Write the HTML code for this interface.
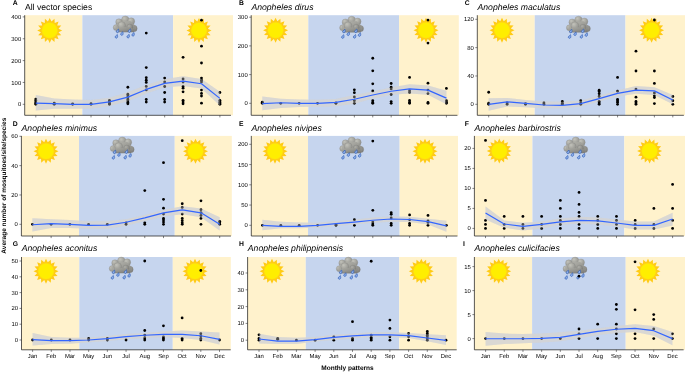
<!DOCTYPE html>
<html><head><meta charset="utf-8"><title>Monthly patterns</title>
<style>html,body{margin:0;padding:0;background:#fff}svg{display:block}text{font-family:"Liberation Sans",sans-serif;fill:#000;text-rendering:geometricPrecision}</style></head><body>
<svg width="685" height="372" viewBox="0 0 685 372">
<defs><linearGradient id="cg" x1="0" y1="0" x2="1" y2="1"><stop offset="0" stop-color="#b9b9b2"/><stop offset="1" stop-color="#84847f"/></linearGradient>
<linearGradient id="cg2" x1="0" y1="0" x2="1" y2="1"><stop offset="0" stop-color="#adada6"/><stop offset="1" stop-color="#7a7a76"/></linearGradient>
<radialGradient id="cr" cx="0.35" cy="0.3" r="0.8"><stop offset="0" stop-color="#c2c2ba"/><stop offset="1" stop-color="#8b8b87"/></radialGradient>
<radialGradient id="cr2" cx="0.35" cy="0.3" r="0.8"><stop offset="0" stop-color="#aeaea8"/><stop offset="1" stop-color="#777774"/></radialGradient>
<g id="sun">
<polygon fill="#FFCB14" points="0.00,-12.50 1.76,-8.83 4.78,-11.55 5.00,-7.48 8.84,-8.84 7.48,-5.00 11.55,-4.78 8.83,-1.76 12.50,0.00 8.83,1.76 11.55,4.78 7.48,5.00 8.84,8.84 5.00,7.48 4.78,11.55 1.76,8.83 0.00,12.50 -1.76,8.83 -4.78,11.55 -5.00,7.48 -8.84,8.84 -7.48,5.00 -11.55,4.78 -8.83,1.76 -12.50,0.00 -8.83,-1.76 -11.55,-4.78 -7.48,-5.00 -8.84,-8.84 -5.00,-7.48 -4.78,-11.55 -1.76,-8.83"/>
<circle r="8.4" fill="#FFD21A"/>
<circle r="7.7" fill="#FFEE00"/>
</g>
<path id="drop" d="M1 -2.3C1.3 -1 1.6 0.2 0.9 0.9A1.15 1.15 0 1 1 -0.9 -0.6C-0.3 -1.2 0.5 -1.6 1 -2.3Z" fill="#8fb0ea" stroke="#2b5bb5" stroke-width="0.65"/>
<g id="cloud">
<g stroke="#8c8c88" stroke-width="0.3">
<circle cx="12.1" cy="3.8" r="3.8" fill="url(#cr)"/>
<circle cx="5.8" cy="6.0" r="3.3" fill="url(#cr)"/>
<circle cx="18.0" cy="5.3" r="3.5" fill="url(#cr)"/>
<circle cx="3.0" cy="11.6" r="3.0" fill="url(#cr)"/>
<circle cx="20.8" cy="12.4" r="3.2" fill="url(#cr2)"/>
</g>
<path fill="url(#cg)" d="M3 16.1 L20.8 16.1 L22.4 10 L17 5 L7 5.5 L2 10 Z"/>
<g stroke="#7f7f7b" stroke-width="0.3">
<circle cx="8.5" cy="9.6" r="3.9" fill="url(#cr)"/>
<circle cx="16.6" cy="11.2" r="3.1" fill="url(#cr2)"/>
</g>
<path fill="url(#cg2)" d="M2.4 12.6 L8 11 L17 11.5 L21.6 13.5 L21 15.9 L3.4 15.9 Z"/>
<path d="M3 16.1 H20.8" stroke="#777" stroke-width="0.4"/>
<use href="#drop" x="4.3" y="15.3"/><use href="#drop" x="8.6" y="18.0"/><use href="#drop" x="3.1" y="20.8"/><use href="#drop" x="16.2" y="15.1"/><use href="#drop" x="19.8" y="18.8"/><use href="#drop" x="14.9" y="20.6"/>
</g>
</defs>
<rect width="685" height="372" fill="#fff"/>
<g>
<rect x="24.7" y="15.2" width="57.68" height="100.1" fill="#FFF2CC"/>
<rect x="82.38" y="15.2" width="90.76" height="100.1" fill="#C6D5EE"/>
<rect x="173.14" y="15.2" width="59.86" height="100.1" fill="#FFF2CC"/>
<use href="#sun" x="49.7" y="30.4"/>
<use href="#sun" x="199" y="30.4"/>
<use href="#cloud" x="113.2" y="16"/>
<polygon fill="#D4D4D4" fill-opacity="0.8" points="35.8,95.12 54.21,98.4 72.62,99.49 91.03,99.93 109.44,97.75 127.85,92.28 146.26,85.07 164.67,79.17 183.08,76.33 201.49,78.95 219.9,91.63 219.9,105.39 201.49,88.57 183.08,85.95 164.67,87.26 146.26,93.38 127.85,101.24 109.44,106.05 91.03,108.45 72.62,108.67 54.21,108.67 35.8,110.42"/>
<g fill="#000"><circle cx="35.8" cy="104.3" r="1.4"/><circle cx="35.8" cy="103.21" r="1.4"/><circle cx="35.8" cy="102.11" r="1.4"/><circle cx="35.8" cy="100.59" r="1.4"/><circle cx="35.8" cy="99.06" r="1.4"/><circle cx="54.21" cy="104.3" r="1.4"/><circle cx="54.21" cy="103.64" r="1.4"/><circle cx="54.21" cy="103.21" r="1.4"/><circle cx="72.62" cy="104.3" r="1.4"/><circle cx="72.62" cy="103.86" r="1.4"/><circle cx="91.03" cy="104.3" r="1.4"/><circle cx="91.03" cy="103.64" r="1.4"/><circle cx="109.44" cy="104.3" r="1.4"/><circle cx="109.44" cy="103.21" r="1.4"/><circle cx="109.44" cy="101.68" r="1.4"/><circle cx="109.44" cy="100.37" r="1.4"/><circle cx="127.85" cy="87.26" r="1.4"/><circle cx="127.85" cy="94.25" r="1.4"/><circle cx="127.85" cy="96" r="1.4"/><circle cx="127.85" cy="97.75" r="1.4"/><circle cx="127.85" cy="99.49" r="1.4"/><circle cx="127.85" cy="101.02" r="1.4"/><circle cx="127.85" cy="102.55" r="1.4"/><circle cx="127.85" cy="103.86" r="1.4"/><circle cx="146.26" cy="33.07" r="1.4"/><circle cx="146.26" cy="67.59" r="1.4"/><circle cx="146.26" cy="77.64" r="1.4"/><circle cx="146.26" cy="80.27" r="1.4"/><circle cx="146.26" cy="82.45" r="1.4"/><circle cx="146.26" cy="86.38" r="1.4"/><circle cx="146.26" cy="89.88" r="1.4"/><circle cx="146.26" cy="99.49" r="1.4"/><circle cx="146.26" cy="102.11" r="1.4"/><circle cx="164.67" cy="78.08" r="1.4"/><circle cx="164.67" cy="82.01" r="1.4"/><circle cx="164.67" cy="86.38" r="1.4"/><circle cx="164.67" cy="92.5" r="1.4"/><circle cx="164.67" cy="99.49" r="1.4"/><circle cx="164.67" cy="102.11" r="1.4"/><circle cx="183.08" cy="57.32" r="1.4"/><circle cx="183.08" cy="78.95" r="1.4"/><circle cx="183.08" cy="82.01" r="1.4"/><circle cx="183.08" cy="86.38" r="1.4"/><circle cx="183.08" cy="88.13" r="1.4"/><circle cx="183.08" cy="91.85" r="1.4"/><circle cx="183.08" cy="100.37" r="1.4"/><circle cx="183.08" cy="102.11" r="1.4"/><circle cx="183.08" cy="103.86" r="1.4"/><circle cx="201.49" cy="20.18" r="1.4"/><circle cx="201.49" cy="46.18" r="1.4"/><circle cx="201.49" cy="63" r="1.4"/><circle cx="201.49" cy="78.08" r="1.4"/><circle cx="201.49" cy="80.27" r="1.4"/><circle cx="201.49" cy="82.01" r="1.4"/><circle cx="201.49" cy="90.1" r="1.4"/><circle cx="201.49" cy="93.38" r="1.4"/><circle cx="201.49" cy="96" r="1.4"/><circle cx="201.49" cy="103.21" r="1.4"/><circle cx="219.9" cy="92.5" r="1.4"/><circle cx="219.9" cy="100.37" r="1.4"/><circle cx="219.9" cy="101.68" r="1.4"/><circle cx="219.9" cy="102.55" r="1.4"/><circle cx="219.9" cy="103.43" r="1.4"/><circle cx="219.9" cy="104.3" r="1.4"/></g>
<polygon fill="#D4D4D4" fill-opacity="0.35" points="35.8,95.12 54.21,98.4 72.62,99.49 91.03,99.93 109.44,97.75 127.85,92.28 146.26,85.07 164.67,79.17 183.08,76.33 201.49,78.95 219.9,91.63 219.9,105.39 201.49,88.57 183.08,85.95 164.67,87.26 146.26,93.38 127.85,101.24 109.44,106.05 91.03,108.45 72.62,108.67 54.21,108.67 35.8,110.42"/>
<polyline fill="none" stroke="#3366FF" stroke-width="1.2" stroke-linejoin="round" points="35.8,103.21 54.21,103.64 72.62,104.3 91.03,104.3 109.44,101.9 127.85,97.09 146.26,89.44 164.67,83.32 183.08,81.14 201.49,83.76 219.9,98.4"/>
<path d="M24.7 15.2V115.3H230.95" fill="none" stroke="#222" stroke-width="0.75"/>
<path d="M22.7 104.3H24.7M22.7 82.45H24.7M22.7 60.6H24.7M22.7 38.75H24.7M22.7 16.9H24.7M35.8 115.3V117.4M54.21 115.3V117.4M72.62 115.3V117.4M91.03 115.3V117.4M109.44 115.3V117.4M127.85 115.3V117.4M146.26 115.3V117.4M164.67 115.3V117.4M183.08 115.3V117.4M201.49 115.3V117.4M219.9 115.3V117.4" stroke="#333" stroke-width="0.6" fill="none"/>
<text x="21.2" y="106.35" font-size="5.9" text-anchor="end" fill="#0d0d0d">0</text>
<text x="21.2" y="84.5" font-size="5.9" text-anchor="end" fill="#0d0d0d">100</text>
<text x="21.2" y="62.65" font-size="5.9" text-anchor="end" fill="#0d0d0d">200</text>
<text x="21.2" y="40.8" font-size="5.9" text-anchor="end" fill="#0d0d0d">300</text>
<text x="21.2" y="18.95" font-size="5.9" text-anchor="end" fill="#0d0d0d">400</text>
<text x="12.8" y="4.8" font-size="6.8" font-weight="bold">A</text>
<text x="24.9" y="10" font-size="8.67">All vector species</text>
</g>
<g>
<rect x="251.2" y="15.2" width="57.12" height="100.1" fill="#FFF2CC"/>
<rect x="308.32" y="15.2" width="90.76" height="100.1" fill="#C6D5EE"/>
<rect x="399.09" y="15.2" width="59.71" height="100.1" fill="#FFF2CC"/>
<use href="#sun" x="275.6" y="30.2"/>
<use href="#sun" x="426" y="30.2"/>
<use href="#cloud" x="339.6" y="16.2"/>
<polygon fill="#D4D4D4" fill-opacity="0.8" points="262.3,96.41 280.71,98.71 299.12,99.57 317.53,99.86 335.94,99 354.35,94.98 372.76,91.53 391.17,87.52 409.58,84.36 427.99,85.51 446.4,90.67 446.4,104.16 427.99,94.69 409.58,93.54 391.17,94.69 372.76,98.42 354.35,103.87 335.94,106.17 317.53,106.74 299.12,107.03 280.71,107.89 262.3,110.19"/>
<g fill="#000"><circle cx="262.3" cy="103.3" r="1.4"/><circle cx="262.3" cy="102.73" r="1.4"/><circle cx="262.3" cy="102.15" r="1.4"/><circle cx="280.71" cy="103.3" r="1.4"/><circle cx="299.12" cy="103.3" r="1.4"/><circle cx="317.53" cy="103.3" r="1.4"/><circle cx="335.94" cy="103.3" r="1.4"/><circle cx="335.94" cy="103.01" r="1.4"/><circle cx="354.35" cy="89.81" r="1.4"/><circle cx="354.35" cy="92.68" r="1.4"/><circle cx="354.35" cy="96.99" r="1.4"/><circle cx="354.35" cy="100.72" r="1.4"/><circle cx="354.35" cy="103.3" r="1.4"/><circle cx="372.76" cy="58.24" r="1.4"/><circle cx="372.76" cy="70.87" r="1.4"/><circle cx="372.76" cy="83.78" r="1.4"/><circle cx="372.76" cy="90.96" r="1.4"/><circle cx="372.76" cy="100.72" r="1.4"/><circle cx="372.76" cy="102.44" r="1.4"/><circle cx="372.76" cy="103.3" r="1.4"/><circle cx="391.17" cy="83.5" r="1.4"/><circle cx="391.17" cy="87.23" r="1.4"/><circle cx="391.17" cy="88.95" r="1.4"/><circle cx="391.17" cy="94.4" r="1.4"/><circle cx="391.17" cy="101.58" r="1.4"/><circle cx="391.17" cy="103.3" r="1.4"/><circle cx="409.58" cy="77.47" r="1.4"/><circle cx="409.58" cy="90.67" r="1.4"/><circle cx="409.58" cy="92.39" r="1.4"/><circle cx="409.58" cy="100.43" r="1.4"/><circle cx="409.58" cy="102.15" r="1.4"/><circle cx="409.58" cy="103.3" r="1.4"/><circle cx="427.99" cy="20.07" r="1.4"/><circle cx="427.99" cy="43.03" r="1.4"/><circle cx="427.99" cy="83.21" r="1.4"/><circle cx="427.99" cy="90.1" r="1.4"/><circle cx="427.99" cy="93.54" r="1.4"/><circle cx="427.99" cy="102.44" r="1.4"/><circle cx="427.99" cy="103.3" r="1.4"/><circle cx="446.4" cy="88.38" r="1.4"/><circle cx="446.4" cy="100.72" r="1.4"/><circle cx="446.4" cy="102.15" r="1.4"/><circle cx="446.4" cy="103.3" r="1.4"/></g>
<polygon fill="#D4D4D4" fill-opacity="0.35" points="262.3,96.41 280.71,98.71 299.12,99.57 317.53,99.86 335.94,99 354.35,94.98 372.76,91.53 391.17,87.52 409.58,84.36 427.99,85.51 446.4,90.67 446.4,104.16 427.99,94.69 409.58,93.54 391.17,94.69 372.76,98.42 354.35,103.87 335.94,106.17 317.53,106.74 299.12,107.03 280.71,107.89 262.3,110.19"/>
<polyline fill="none" stroke="#3366FF" stroke-width="1.2" stroke-linejoin="round" points="262.3,103.59 280.71,102.73 299.12,103.3 317.53,103.3 335.94,102.44 354.35,99.28 372.76,94.98 391.17,91.25 409.58,88.95 427.99,90.1 446.4,98.13"/>
<path d="M251.2 15.2V115.3H457.45" fill="none" stroke="#222" stroke-width="0.75"/>
<path d="M249.2 103.3H251.2M249.2 74.6H251.2M249.2 45.9H251.2M249.2 17.2H251.2M262.3 115.3V117.4M280.71 115.3V117.4M299.12 115.3V117.4M317.53 115.3V117.4M335.94 115.3V117.4M354.35 115.3V117.4M372.76 115.3V117.4M391.17 115.3V117.4M409.58 115.3V117.4M427.99 115.3V117.4M446.4 115.3V117.4" stroke="#333" stroke-width="0.6" fill="none"/>
<text x="247.7" y="105.35" font-size="5.9" text-anchor="end" fill="#0d0d0d">0</text>
<text x="247.7" y="76.65" font-size="5.9" text-anchor="end" fill="#0d0d0d">100</text>
<text x="247.7" y="47.95" font-size="5.9" text-anchor="end" fill="#0d0d0d">200</text>
<text x="247.7" y="19.25" font-size="5.9" text-anchor="end" fill="#0d0d0d">300</text>
<text x="239.1" y="4.8" font-size="6.8" font-weight="bold">B</text>
<text x="251.4" y="10" font-size="8.67" font-style="italic">Anopheles dirus</text>
</g>
<g>
<rect x="477.3" y="15.2" width="57.43" height="100.1" fill="#FFF2CC"/>
<rect x="534.73" y="15.2" width="90.76" height="100.1" fill="#C6D5EE"/>
<rect x="625.49" y="15.2" width="59.71" height="100.1" fill="#FFF2CC"/>
<use href="#sun" x="502" y="30.2"/>
<use href="#sun" x="651.6" y="30.2"/>
<use href="#cloud" x="566.4" y="16.2"/>
<polygon fill="#D4D4D4" fill-opacity="0.8" points="488.7,98.21 507.11,97.93 525.52,100.05 543.93,101.47 562.34,101.82 580.75,100.76 599.16,95.45 617.57,90.49 635.98,85.88 654.39,87.3 672.8,95.09 672.8,104.3 654.39,95.09 635.98,93.68 617.57,96.51 599.16,101.47 580.75,106.42 562.34,108.2 543.93,108.2 525.52,107.13 507.11,106.42 488.7,110.67"/>
<g fill="#000"><circle cx="488.7" cy="92.26" r="1.4"/><circle cx="488.7" cy="103.24" r="1.4"/><circle cx="488.7" cy="104.3" r="1.4"/><circle cx="507.11" cy="104.3" r="1.4"/><circle cx="507.11" cy="102.88" r="1.4"/><circle cx="525.52" cy="104.3" r="1.4"/><circle cx="525.52" cy="103.59" r="1.4"/><circle cx="543.93" cy="102.88" r="1.4"/><circle cx="543.93" cy="104.3" r="1.4"/><circle cx="562.34" cy="101.47" r="1.4"/><circle cx="562.34" cy="103.24" r="1.4"/><circle cx="562.34" cy="104.3" r="1.4"/><circle cx="580.75" cy="100.76" r="1.4"/><circle cx="580.75" cy="102.88" r="1.4"/><circle cx="580.75" cy="104.3" r="1.4"/><circle cx="599.16" cy="90.13" r="1.4"/><circle cx="599.16" cy="91.55" r="1.4"/><circle cx="599.16" cy="93.68" r="1.4"/><circle cx="599.16" cy="96.51" r="1.4"/><circle cx="599.16" cy="101.47" r="1.4"/><circle cx="599.16" cy="102.88" r="1.4"/><circle cx="599.16" cy="104.3" r="1.4"/><circle cx="617.57" cy="77.38" r="1.4"/><circle cx="617.57" cy="91.2" r="1.4"/><circle cx="617.57" cy="99.34" r="1.4"/><circle cx="617.57" cy="100.76" r="1.4"/><circle cx="617.57" cy="102.18" r="1.4"/><circle cx="617.57" cy="104.3" r="1.4"/><circle cx="635.98" cy="51.18" r="1.4"/><circle cx="635.98" cy="71.01" r="1.4"/><circle cx="635.98" cy="89.07" r="1.4"/><circle cx="635.98" cy="97.22" r="1.4"/><circle cx="635.98" cy="101.47" r="1.4"/><circle cx="635.98" cy="102.88" r="1.4"/><circle cx="635.98" cy="104.3" r="1.4"/><circle cx="654.39" cy="20.01" r="1.4"/><circle cx="654.39" cy="71.01" r="1.4"/><circle cx="654.39" cy="83.41" r="1.4"/><circle cx="654.39" cy="92.97" r="1.4"/><circle cx="654.39" cy="95.8" r="1.4"/><circle cx="654.39" cy="97.57" r="1.4"/><circle cx="654.39" cy="103.59" r="1.4"/><circle cx="672.8" cy="96.51" r="1.4"/><circle cx="672.8" cy="100.76" r="1.4"/><circle cx="672.8" cy="104.3" r="1.4"/></g>
<polygon fill="#D4D4D4" fill-opacity="0.35" points="488.7,98.21 507.11,97.93 525.52,100.05 543.93,101.47 562.34,101.82 580.75,100.76 599.16,95.45 617.57,90.49 635.98,85.88 654.39,87.3 672.8,95.09 672.8,104.3 654.39,95.09 635.98,93.68 617.57,96.51 599.16,101.47 580.75,106.42 562.34,108.2 543.93,108.2 525.52,107.13 507.11,106.42 488.7,110.67"/>
<polyline fill="none" stroke="#3366FF" stroke-width="1.2" stroke-linejoin="round" points="488.7,104.3 507.11,101.82 525.52,103.38 543.93,105.01 562.34,105.36 580.75,103.59 599.16,98.63 617.57,93.32 635.98,90.13 654.39,90.84 672.8,100.05"/>
<path d="M477.3 15.2V115.3H683.85" fill="none" stroke="#222" stroke-width="0.75"/>
<path d="M475.3 104.3H477.3M475.3 75.97H477.3M475.3 47.64H477.3M475.3 19.3H477.3M488.7 115.3V117.4M507.11 115.3V117.4M525.52 115.3V117.4M543.93 115.3V117.4M562.34 115.3V117.4M580.75 115.3V117.4M599.16 115.3V117.4M617.57 115.3V117.4M635.98 115.3V117.4M654.39 115.3V117.4M672.8 115.3V117.4" stroke="#333" stroke-width="0.6" fill="none"/>
<text x="473.8" y="106.35" font-size="5.9" text-anchor="end" fill="#0d0d0d">0</text>
<text x="473.8" y="78.02" font-size="5.9" text-anchor="end" fill="#0d0d0d">40</text>
<text x="473.8" y="49.69" font-size="5.9" text-anchor="end" fill="#0d0d0d">80</text>
<text x="473.8" y="21.35" font-size="5.9" text-anchor="end" fill="#0d0d0d">120</text>
<text x="464.8" y="4.8" font-size="6.8" font-weight="bold">C</text>
<text x="477.5" y="10" font-size="8.67" font-style="italic">Anopheles maculatus</text>
</g>
<g>
<rect x="21.4" y="135.9" width="57.64" height="100.1" fill="#FFF2CC"/>
<rect x="79.04" y="135.9" width="95.71" height="100.1" fill="#C6D5EE"/>
<rect x="174.75" y="135.9" width="57.05" height="100.1" fill="#FFF2CC"/>
<use href="#sun" x="46" y="151.2"/>
<use href="#sun" x="195.5" y="151.2"/>
<use href="#cloud" x="110.2" y="137"/>
<polygon fill="#D4D4D4" fill-opacity="0.8" points="32.4,218.29 51.13,219.31 69.86,219.9 88.59,221.37 107.32,221.37 126.05,219.17 144.78,214.91 163.51,209.93 182.24,206.26 200.97,208.46 219.7,217.26 219.7,230.61 200.97,217.26 182.24,214.33 163.51,216.38 144.78,221.07 126.05,225.77 107.32,228.7 88.59,228.7 69.86,227.97 51.13,227.97 32.4,231.49"/>
<g fill="#000"><circle cx="32.4" cy="224.3" r="1.4"/><circle cx="51.13" cy="224.3" r="1.4"/><circle cx="69.86" cy="224.3" r="1.4"/><circle cx="88.59" cy="224.3" r="1.4"/><circle cx="107.32" cy="224.3" r="1.4"/><circle cx="126.05" cy="224.3" r="1.4"/><circle cx="126.05" cy="222.83" r="1.4"/><circle cx="144.78" cy="190.57" r="1.4"/><circle cx="144.78" cy="222.83" r="1.4"/><circle cx="144.78" cy="224.3" r="1.4"/><circle cx="163.51" cy="162.7" r="1.4"/><circle cx="163.51" cy="199.37" r="1.4"/><circle cx="163.51" cy="208.17" r="1.4"/><circle cx="163.51" cy="214.03" r="1.4"/><circle cx="163.51" cy="218.43" r="1.4"/><circle cx="163.51" cy="219.9" r="1.4"/><circle cx="163.51" cy="222.1" r="1.4"/><circle cx="163.51" cy="224.3" r="1.4"/><circle cx="182.24" cy="140.7" r="1.4"/><circle cx="182.24" cy="203.77" r="1.4"/><circle cx="182.24" cy="207.43" r="1.4"/><circle cx="182.24" cy="214.03" r="1.4"/><circle cx="182.24" cy="218.43" r="1.4"/><circle cx="182.24" cy="220.63" r="1.4"/><circle cx="182.24" cy="222.83" r="1.4"/><circle cx="182.24" cy="224.3" r="1.4"/><circle cx="200.97" cy="200.83" r="1.4"/><circle cx="200.97" cy="209.63" r="1.4"/><circle cx="200.97" cy="212.57" r="1.4"/><circle cx="200.97" cy="215.5" r="1.4"/><circle cx="200.97" cy="218.43" r="1.4"/><circle cx="200.97" cy="224.3" r="1.4"/><circle cx="219.7" cy="221.37" r="1.4"/><circle cx="219.7" cy="222.83" r="1.4"/><circle cx="219.7" cy="224.3" r="1.4"/></g>
<polygon fill="#D4D4D4" fill-opacity="0.35" points="32.4,218.29 51.13,219.31 69.86,219.9 88.59,221.37 107.32,221.37 126.05,219.17 144.78,214.91 163.51,209.93 182.24,206.26 200.97,208.46 219.7,217.26 219.7,230.61 200.97,217.26 182.24,214.33 163.51,216.38 144.78,221.07 126.05,225.77 107.32,228.7 88.59,228.7 69.86,227.97 51.13,227.97 32.4,231.49"/>
<polyline fill="none" stroke="#3366FF" stroke-width="1.2" stroke-linejoin="round" points="32.4,224.74 51.13,223.57 69.86,224.3 88.59,225.33 107.32,225.18 126.05,222.25 144.78,217.85 163.51,212.86 182.24,209.93 200.97,212.86 219.7,224.3"/>
<path d="M21.4 135.9V236H230.94" fill="none" stroke="#222" stroke-width="0.75"/>
<path d="M19.4 224.3H21.4M19.4 194.97H21.4M19.4 165.63H21.4M19.4 136.3H21.4M32.4 236V238.1M51.13 236V238.1M69.86 236V238.1M88.59 236V238.1M107.32 236V238.1M126.05 236V238.1M144.78 236V238.1M163.51 236V238.1M182.24 236V238.1M200.97 236V238.1M219.7 236V238.1" stroke="#333" stroke-width="0.6" fill="none"/>
<text x="17.9" y="226.35" font-size="5.9" text-anchor="end" fill="#0d0d0d">0</text>
<text x="17.9" y="197.02" font-size="5.9" text-anchor="end" fill="#0d0d0d">20</text>
<text x="17.9" y="167.68" font-size="5.9" text-anchor="end" fill="#0d0d0d">40</text>
<text x="17.9" y="138.35" font-size="5.9" text-anchor="end" fill="#0d0d0d">60</text>
<text x="12.8" y="125.7" font-size="6.8" font-weight="bold">D</text>
<text x="21.6" y="130.5" font-size="8.67" font-style="italic">Anopheles minimus</text>
</g>
<g>
<rect x="251.3" y="135.9" width="56.73" height="100.1" fill="#FFF2CC"/>
<rect x="308.03" y="135.9" width="91.63" height="100.1" fill="#C6D5EE"/>
<rect x="399.66" y="135.9" width="58.34" height="100.1" fill="#FFF2CC"/>
<use href="#sun" x="275" y="151.2"/>
<use href="#sun" x="425" y="151.2"/>
<use href="#cloud" x="339.7" y="137"/>
<polygon fill="#D4D4D4" fill-opacity="0.8" points="262.4,219.63 280.8,221.86 299.2,222.47 317.6,222.67 336,221.25 354.4,219.63 372.8,217.61 391.2,216.39 409.6,216.8 428,218.82 446.4,220.84 446.4,231.78 428,224.49 409.6,222.06 391.2,221.66 372.8,222.87 354.4,224.49 336,226.11 317.6,227.53 299.2,228.14 280.8,228.34 262.4,230.16"/>
<g fill="#000"><circle cx="262.4" cy="225.3" r="1.4"/><circle cx="280.8" cy="225.3" r="1.4"/><circle cx="299.2" cy="225.3" r="1.4"/><circle cx="317.6" cy="225.3" r="1.4"/><circle cx="336" cy="225.3" r="1.4"/><circle cx="336" cy="224.49" r="1.4"/><circle cx="354.4" cy="219.63" r="1.4"/><circle cx="354.4" cy="225.3" r="1.4"/><circle cx="372.8" cy="141.06" r="1.4"/><circle cx="372.8" cy="210.31" r="1.4"/><circle cx="372.8" cy="222.06" r="1.4"/><circle cx="372.8" cy="224.09" r="1.4"/><circle cx="372.8" cy="225.3" r="1.4"/><circle cx="391.2" cy="212.75" r="1.4"/><circle cx="391.2" cy="214.37" r="1.4"/><circle cx="391.2" cy="218.01" r="1.4"/><circle cx="391.2" cy="223.48" r="1.4"/><circle cx="391.2" cy="225.3" r="1.4"/><circle cx="409.6" cy="214.97" r="1.4"/><circle cx="409.6" cy="219.83" r="1.4"/><circle cx="409.6" cy="223.48" r="1.4"/><circle cx="409.6" cy="225.3" r="1.4"/><circle cx="428" cy="215.38" r="1.4"/><circle cx="428" cy="220.84" r="1.4"/><circle cx="428" cy="222.47" r="1.4"/><circle cx="428" cy="225.3" r="1.4"/><circle cx="446.4" cy="225.3" r="1.4"/></g>
<polygon fill="#D4D4D4" fill-opacity="0.35" points="262.4,219.63 280.8,221.86 299.2,222.47 317.6,222.67 336,221.25 354.4,219.63 372.8,217.61 391.2,216.39 409.6,216.8 428,218.82 446.4,220.84 446.4,231.78 428,224.49 409.6,222.06 391.2,221.66 372.8,222.87 354.4,224.49 336,226.11 317.6,227.53 299.2,228.14 280.8,228.34 262.4,230.16"/>
<polyline fill="none" stroke="#3366FF" stroke-width="1.2" stroke-linejoin="round" points="262.4,225.3 280.8,226.31 299.2,226.31 317.6,225.3 336,223.68 354.4,222.06 372.8,220.24 391.2,218.98 409.6,219.51 428,221.66 446.4,225.83"/>
<path d="M251.3 135.9V236H457.44" fill="none" stroke="#222" stroke-width="0.75"/>
<path d="M249.3 225.3H251.3M249.3 205.05H251.3M249.3 184.8H251.3M249.3 164.55H251.3M249.3 144.3H251.3M262.4 236V238.1M280.8 236V238.1M299.2 236V238.1M317.6 236V238.1M336 236V238.1M354.4 236V238.1M372.8 236V238.1M391.2 236V238.1M409.6 236V238.1M428 236V238.1M446.4 236V238.1" stroke="#333" stroke-width="0.6" fill="none"/>
<text x="247.8" y="227.35" font-size="5.9" text-anchor="end" fill="#0d0d0d">0</text>
<text x="247.8" y="207.1" font-size="5.9" text-anchor="end" fill="#0d0d0d">50</text>
<text x="247.8" y="186.85" font-size="5.9" text-anchor="end" fill="#0d0d0d">100</text>
<text x="247.8" y="166.6" font-size="5.9" text-anchor="end" fill="#0d0d0d">150</text>
<text x="247.8" y="146.35" font-size="5.9" text-anchor="end" fill="#0d0d0d">200</text>
<text x="239.1" y="125.7" font-size="6.8" font-weight="bold">E</text>
<text x="251.5" y="130.5" font-size="8.67" font-style="italic">Anopheles nivipes</text>
</g>
<g>
<rect x="474.4" y="135.9" width="58.06" height="100.1" fill="#FFF2CC"/>
<rect x="532.46" y="135.9" width="91.87" height="100.1" fill="#C6D5EE"/>
<rect x="624.33" y="135.9" width="60.87" height="100.1" fill="#FFF2CC"/>
<use href="#sun" x="499.3" y="151"/>
<use href="#sun" x="649.6" y="151"/>
<use href="#cloud" x="563.7" y="137"/>
<polygon fill="#D4D4D4" fill-opacity="0.8" points="485.5,206.4 504.21,220.4 522.92,222.8 541.63,221.4 560.34,218.4 579.05,216.8 597.76,217.4 616.47,219.4 635.18,221.4 653.89,221.4 672.6,212.8 672.6,225.4 653.89,229.4 635.18,229.4 616.47,226.4 597.76,224.4 579.05,223.4 560.34,224.8 541.63,228.4 522.92,230.4 504.21,227.8 485.5,219.4"/>
<g fill="#000"><circle cx="485.5" cy="140.4" r="1.4"/><circle cx="485.5" cy="200.4" r="1.4"/><circle cx="485.5" cy="220.4" r="1.4"/><circle cx="485.5" cy="224.4" r="1.4"/><circle cx="485.5" cy="228.4" r="1.4"/><circle cx="504.21" cy="216.4" r="1.4"/><circle cx="504.21" cy="224.4" r="1.4"/><circle cx="504.21" cy="228.4" r="1.4"/><circle cx="522.92" cy="216.4" r="1.4"/><circle cx="522.92" cy="224.4" r="1.4"/><circle cx="522.92" cy="228.4" r="1.4"/><circle cx="541.63" cy="216.4" r="1.4"/><circle cx="541.63" cy="224.4" r="1.4"/><circle cx="541.63" cy="228.4" r="1.4"/><circle cx="560.34" cy="200.4" r="1.4"/><circle cx="560.34" cy="208.4" r="1.4"/><circle cx="560.34" cy="216.4" r="1.4"/><circle cx="560.34" cy="220.4" r="1.4"/><circle cx="560.34" cy="224.4" r="1.4"/><circle cx="560.34" cy="228.4" r="1.4"/><circle cx="579.05" cy="192.4" r="1.4"/><circle cx="579.05" cy="204.4" r="1.4"/><circle cx="579.05" cy="212.4" r="1.4"/><circle cx="579.05" cy="216.4" r="1.4"/><circle cx="579.05" cy="224.4" r="1.4"/><circle cx="579.05" cy="228.4" r="1.4"/><circle cx="597.76" cy="216.4" r="1.4"/><circle cx="597.76" cy="220.4" r="1.4"/><circle cx="597.76" cy="224.4" r="1.4"/><circle cx="597.76" cy="228.4" r="1.4"/><circle cx="616.47" cy="216.4" r="1.4"/><circle cx="616.47" cy="220.4" r="1.4"/><circle cx="616.47" cy="224.4" r="1.4"/><circle cx="616.47" cy="228.4" r="1.4"/><circle cx="635.18" cy="220.4" r="1.4"/><circle cx="635.18" cy="224.4" r="1.4"/><circle cx="635.18" cy="228.4" r="1.4"/><circle cx="653.89" cy="208.4" r="1.4"/><circle cx="653.89" cy="224.4" r="1.4"/><circle cx="653.89" cy="228.4" r="1.4"/><circle cx="672.6" cy="184.4" r="1.4"/><circle cx="672.6" cy="208.4" r="1.4"/><circle cx="672.6" cy="220.4" r="1.4"/><circle cx="672.6" cy="228.4" r="1.4"/></g>
<polygon fill="#D4D4D4" fill-opacity="0.35" points="485.5,206.4 504.21,220.4 522.92,222.8 541.63,221.4 560.34,218.4 579.05,216.8 597.76,217.4 616.47,219.4 635.18,221.4 653.89,221.4 672.6,212.8 672.6,225.4 653.89,229.4 635.18,229.4 616.47,226.4 597.76,224.4 579.05,223.4 560.34,224.8 541.63,228.4 522.92,230.4 504.21,227.8 485.5,219.4"/>
<polyline fill="none" stroke="#3366FF" stroke-width="1.2" stroke-linejoin="round" points="485.5,213 504.21,224 522.92,226.4 541.63,224.4 560.34,221.8 579.05,220.4 597.76,220.8 616.47,223 635.18,225.4 653.89,225.4 672.6,219"/>
<path d="M474.4 135.9V236H683.83" fill="none" stroke="#222" stroke-width="0.75"/>
<path d="M472.4 228.4H474.4M472.4 208.4H474.4M472.4 188.4H474.4M472.4 168.4H474.4M472.4 148.4H474.4M485.5 236V238.1M504.21 236V238.1M522.92 236V238.1M541.63 236V238.1M560.34 236V238.1M579.05 236V238.1M597.76 236V238.1M616.47 236V238.1M635.18 236V238.1M653.89 236V238.1M672.6 236V238.1" stroke="#333" stroke-width="0.6" fill="none"/>
<text x="470.9" y="230.45" font-size="5.9" text-anchor="end" fill="#0d0d0d">0</text>
<text x="470.9" y="210.45" font-size="5.9" text-anchor="end" fill="#0d0d0d">5</text>
<text x="470.9" y="190.45" font-size="5.9" text-anchor="end" fill="#0d0d0d">10</text>
<text x="470.9" y="170.45" font-size="5.9" text-anchor="end" fill="#0d0d0d">15</text>
<text x="470.9" y="150.45" font-size="5.9" text-anchor="end" fill="#0d0d0d">20</text>
<text x="464.8" y="125.7" font-size="6.8" font-weight="bold">F</text>
<text x="474.6" y="130.5" font-size="8.67" font-style="italic">Anopheles barbirostris</text>
</g>
<g>
<rect x="21.5" y="257" width="57.83" height="92.8" fill="#FFF2CC"/>
<rect x="79.33" y="257" width="93.45" height="92.8" fill="#C6D5EE"/>
<rect x="172.78" y="257" width="58.03" height="92.8" fill="#FFF2CC"/>
<use href="#sun" x="46" y="271.2"/>
<use href="#sun" x="195" y="271.2"/>
<use href="#cloud" x="109.2" y="257"/>
<polygon fill="#D4D4D4" fill-opacity="0.8" points="32.6,333.05 51.29,337 69.98,337.63 88.67,337.63 107.36,336.05 126.05,334 144.74,332.89 163.43,331.47 182.12,330.52 200.81,331.47 219.5,332.42 219.5,344.58 200.81,340 182.12,337.95 163.43,337 144.74,337.95 126.05,339.37 107.36,340.95 88.67,342.37 69.98,343.63 51.29,343.95 32.6,345.53"/>
<g fill="#000"><circle cx="32.6" cy="340" r="1.4"/><circle cx="51.29" cy="340" r="1.4"/><circle cx="69.98" cy="340" r="1.4"/><circle cx="88.67" cy="338.42" r="1.4"/><circle cx="88.67" cy="340" r="1.4"/><circle cx="107.36" cy="338.42" r="1.4"/><circle cx="107.36" cy="340" r="1.4"/><circle cx="126.05" cy="340" r="1.4"/><circle cx="144.74" cy="261" r="1.4"/><circle cx="144.74" cy="330.52" r="1.4"/><circle cx="144.74" cy="335.26" r="1.4"/><circle cx="144.74" cy="337.95" r="1.4"/><circle cx="144.74" cy="340" r="1.4"/><circle cx="163.43" cy="325.78" r="1.4"/><circle cx="163.43" cy="336.84" r="1.4"/><circle cx="163.43" cy="338.42" r="1.4"/><circle cx="163.43" cy="340" r="1.4"/><circle cx="182.12" cy="317.88" r="1.4"/><circle cx="182.12" cy="338.42" r="1.4"/><circle cx="182.12" cy="340" r="1.4"/><circle cx="200.81" cy="270.48" r="1.4"/><circle cx="200.81" cy="333.68" r="1.4"/><circle cx="200.81" cy="336.05" r="1.4"/><circle cx="200.81" cy="338.42" r="1.4"/><circle cx="200.81" cy="340" r="1.4"/><circle cx="219.5" cy="340" r="1.4"/></g>
<polygon fill="#D4D4D4" fill-opacity="0.35" points="32.6,333.05 51.29,337 69.98,337.63 88.67,337.63 107.36,336.05 126.05,334 144.74,332.89 163.43,331.47 182.12,330.52 200.81,331.47 219.5,332.42 219.5,344.58 200.81,340 182.12,337.95 163.43,337 144.74,337.95 126.05,339.37 107.36,340.95 88.67,342.37 69.98,343.63 51.29,343.95 32.6,345.53"/>
<polyline fill="none" stroke="#3366FF" stroke-width="1.2" stroke-linejoin="round" points="32.6,339.53 51.29,340.63 69.98,340.63 88.67,340 107.36,338.58 126.05,336.68 144.74,335.26 163.43,334.31 182.12,334.31 200.81,335.73 219.5,339.37"/>
<path d="M21.5 257V349.8H230.71" fill="none" stroke="#222" stroke-width="0.75"/>
<path d="M19.5 340H21.5M19.5 324.2H21.5M19.5 308.4H21.5M19.5 292.6H21.5M19.5 276.8H21.5M19.5 261H21.5M32.6 349.8V351.9M51.29 349.8V351.9M69.98 349.8V351.9M88.67 349.8V351.9M107.36 349.8V351.9M126.05 349.8V351.9M144.74 349.8V351.9M163.43 349.8V351.9M182.12 349.8V351.9M200.81 349.8V351.9M219.5 349.8V351.9" stroke="#333" stroke-width="0.6" fill="none"/>
<text x="18" y="342.05" font-size="5.9" text-anchor="end" fill="#0d0d0d">0</text>
<text x="18" y="326.25" font-size="5.9" text-anchor="end" fill="#0d0d0d">10</text>
<text x="18" y="310.45" font-size="5.9" text-anchor="end" fill="#0d0d0d">20</text>
<text x="18" y="294.65" font-size="5.9" text-anchor="end" fill="#0d0d0d">30</text>
<text x="18" y="278.85" font-size="5.9" text-anchor="end" fill="#0d0d0d">40</text>
<text x="18" y="263.05" font-size="5.9" text-anchor="end" fill="#0d0d0d">50</text>
<text x="32.6" y="357.65" font-size="5.9" text-anchor="middle" fill="#0d0d0d">Jan</text>
<text x="51.29" y="357.65" font-size="5.9" text-anchor="middle" fill="#0d0d0d">Feb</text>
<text x="69.98" y="357.65" font-size="5.9" text-anchor="middle" fill="#0d0d0d">Mar</text>
<text x="88.67" y="357.65" font-size="5.9" text-anchor="middle" fill="#0d0d0d">May</text>
<text x="107.36" y="357.65" font-size="5.9" text-anchor="middle" fill="#0d0d0d">Jun</text>
<text x="126.05" y="357.65" font-size="5.9" text-anchor="middle" fill="#0d0d0d">Jul</text>
<text x="144.74" y="357.65" font-size="5.9" text-anchor="middle" fill="#0d0d0d">Aug</text>
<text x="163.43" y="357.65" font-size="5.9" text-anchor="middle" fill="#0d0d0d">Sep</text>
<text x="182.12" y="357.65" font-size="5.9" text-anchor="middle" fill="#0d0d0d">Oct</text>
<text x="200.81" y="357.65" font-size="5.9" text-anchor="middle" fill="#0d0d0d">Nov</text>
<text x="219.5" y="357.65" font-size="5.9" text-anchor="middle" fill="#0d0d0d">Dec</text>
<text x="12.8" y="246.3" font-size="6.8" font-weight="bold">G</text>
<text x="21.7" y="251" font-size="8.67" font-style="italic">Anopheles aconitus</text>
</g>
<g>
<rect x="247.6" y="257" width="58.15" height="92.8" fill="#FFF2CC"/>
<rect x="305.75" y="257" width="93.5" height="92.8" fill="#C6D5EE"/>
<rect x="399.25" y="257" width="57.45" height="92.8" fill="#FFF2CC"/>
<use href="#sun" x="272" y="271.2"/>
<use href="#sun" x="421.3" y="271.2"/>
<use href="#cloud" x="336.3" y="257.1"/>
<polygon fill="#D4D4D4" fill-opacity="0.8" points="259,333.65 277.7,337.01 296.4,337.68 315.1,337.01 333.8,334.66 352.5,333.65 371.2,332.3 389.9,332.3 408.6,332.98 427.3,334.32 446,335.16 446,344.9 427.3,341.21 408.6,338.02 389.9,337.01 371.2,337.01 352.5,338.52 333.8,340.03 315.1,341.54 296.4,344.06 277.7,344.06 259,343.56"/>
<g fill="#000"><circle cx="259" cy="334.82" r="1.4"/><circle cx="259" cy="338.52" r="1.4"/><circle cx="259" cy="340.2" r="1.4"/><circle cx="277.7" cy="338.52" r="1.4"/><circle cx="277.7" cy="339.36" r="1.4"/><circle cx="296.4" cy="340.2" r="1.4"/><circle cx="315.1" cy="340.2" r="1.4"/><circle cx="333.8" cy="336.84" r="1.4"/><circle cx="333.8" cy="340.2" r="1.4"/><circle cx="352.5" cy="321.72" r="1.4"/><circle cx="352.5" cy="338.52" r="1.4"/><circle cx="352.5" cy="340.2" r="1.4"/><circle cx="371.2" cy="261.24" r="1.4"/><circle cx="371.2" cy="335.16" r="1.4"/><circle cx="371.2" cy="337.51" r="1.4"/><circle cx="371.2" cy="338.86" r="1.4"/><circle cx="371.2" cy="340.2" r="1.4"/><circle cx="389.9" cy="320.04" r="1.4"/><circle cx="389.9" cy="328.44" r="1.4"/><circle cx="389.9" cy="336.84" r="1.4"/><circle cx="389.9" cy="340.2" r="1.4"/><circle cx="408.6" cy="333.48" r="1.4"/><circle cx="408.6" cy="336.84" r="1.4"/><circle cx="408.6" cy="340.2" r="1.4"/><circle cx="427.3" cy="331.46" r="1.4"/><circle cx="427.3" cy="333.48" r="1.4"/><circle cx="427.3" cy="335.16" r="1.4"/><circle cx="427.3" cy="336.84" r="1.4"/><circle cx="427.3" cy="338.52" r="1.4"/><circle cx="427.3" cy="340.2" r="1.4"/><circle cx="446" cy="340.2" r="1.4"/></g>
<polygon fill="#D4D4D4" fill-opacity="0.35" points="259,333.65 277.7,337.01 296.4,337.68 315.1,337.01 333.8,334.66 352.5,333.65 371.2,332.3 389.9,332.3 408.6,332.98 427.3,334.32 446,335.16 446,344.9 427.3,341.21 408.6,338.02 389.9,337.01 371.2,337.01 352.5,338.52 333.8,340.03 315.1,341.54 296.4,344.06 277.7,344.06 259,343.56"/>
<polyline fill="none" stroke="#3366FF" stroke-width="1.2" stroke-linejoin="round" points="259,339.02 277.7,341.04 296.4,341.04 315.1,339.61 333.8,337.34 352.5,335.83 371.2,334.82 389.9,334.82 408.6,335.66 427.3,338.02 446,340.37"/>
<path d="M247.6 257V349.8H456.7" fill="none" stroke="#222" stroke-width="0.75"/>
<path d="M245.6 340.2H247.6M245.6 323.4H247.6M245.6 306.6H247.6M245.6 289.8H247.6M245.6 273H247.6M259 349.8V351.9M277.7 349.8V351.9M296.4 349.8V351.9M315.1 349.8V351.9M333.8 349.8V351.9M352.5 349.8V351.9M371.2 349.8V351.9M389.9 349.8V351.9M408.6 349.8V351.9M427.3 349.8V351.9M446 349.8V351.9" stroke="#333" stroke-width="0.6" fill="none"/>
<text x="244.1" y="342.25" font-size="5.9" text-anchor="end" fill="#0d0d0d">0</text>
<text x="244.1" y="325.45" font-size="5.9" text-anchor="end" fill="#0d0d0d">10</text>
<text x="244.1" y="308.65" font-size="5.9" text-anchor="end" fill="#0d0d0d">20</text>
<text x="244.1" y="291.85" font-size="5.9" text-anchor="end" fill="#0d0d0d">30</text>
<text x="244.1" y="275.05" font-size="5.9" text-anchor="end" fill="#0d0d0d">40</text>
<text x="259" y="357.65" font-size="5.9" text-anchor="middle" fill="#0d0d0d">Jan</text>
<text x="277.7" y="357.65" font-size="5.9" text-anchor="middle" fill="#0d0d0d">Feb</text>
<text x="296.4" y="357.65" font-size="5.9" text-anchor="middle" fill="#0d0d0d">Mar</text>
<text x="315.1" y="357.65" font-size="5.9" text-anchor="middle" fill="#0d0d0d">May</text>
<text x="333.8" y="357.65" font-size="5.9" text-anchor="middle" fill="#0d0d0d">Jun</text>
<text x="352.5" y="357.65" font-size="5.9" text-anchor="middle" fill="#0d0d0d">Jul</text>
<text x="371.2" y="357.65" font-size="5.9" text-anchor="middle" fill="#0d0d0d">Aug</text>
<text x="389.9" y="357.65" font-size="5.9" text-anchor="middle" fill="#0d0d0d">Sep</text>
<text x="408.6" y="357.65" font-size="5.9" text-anchor="middle" fill="#0d0d0d">Oct</text>
<text x="427.3" y="357.65" font-size="5.9" text-anchor="middle" fill="#0d0d0d">Nov</text>
<text x="446" y="357.65" font-size="5.9" text-anchor="middle" fill="#0d0d0d">Dec</text>
<text x="239.1" y="246.3" font-size="6.8" font-weight="bold">H</text>
<text x="247.8" y="251" font-size="8.67" font-style="italic">Anopheles philippinensis</text>
</g>
<g>
<rect x="474.4" y="257" width="57.71" height="92.8" fill="#FFF2CC"/>
<rect x="532.11" y="257" width="93.59" height="92.8" fill="#C6D5EE"/>
<rect x="625.7" y="257" width="59.5" height="92.8" fill="#FFF2CC"/>
<use href="#sun" x="498.7" y="271.2"/>
<use href="#sun" x="648" y="271.2"/>
<use href="#cloud" x="563" y="257.1"/>
<polygon fill="#D4D4D4" fill-opacity="0.8" points="485.6,331.98 504.28,333.61 522.96,333.94 541.64,333.61 560.32,332.36 579,330.82 597.68,328.52 616.36,326.12 635.04,324.2 653.72,326.12 672.4,332.12 672.4,345.32 653.72,335.82 635.04,332.12 616.36,332.98 597.68,334.9 579,338.36 560.32,341.34 541.64,342.44 522.96,343.26 504.28,344.07 485.6,345.7"/>
<g fill="#000"><circle cx="485.6" cy="338.6" r="1.4"/><circle cx="504.28" cy="338.6" r="1.4"/><circle cx="522.96" cy="338.6" r="1.4"/><circle cx="541.64" cy="338.6" r="1.4"/><circle cx="560.32" cy="338.6" r="1.4"/><circle cx="579" cy="276.2" r="1.4"/><circle cx="579" cy="329" r="1.4"/><circle cx="579" cy="333.8" r="1.4"/><circle cx="579" cy="338.6" r="1.4"/><circle cx="597.68" cy="324.2" r="1.4"/><circle cx="597.68" cy="338.6" r="1.4"/><circle cx="616.36" cy="304.52" r="1.4"/><circle cx="616.36" cy="309.32" r="1.4"/><circle cx="616.36" cy="324.2" r="1.4"/><circle cx="616.36" cy="329" r="1.4"/><circle cx="616.36" cy="333.8" r="1.4"/><circle cx="616.36" cy="338.6" r="1.4"/><circle cx="635.04" cy="261.8" r="1.4"/><circle cx="635.04" cy="309.8" r="1.4"/><circle cx="635.04" cy="333.8" r="1.4"/><circle cx="635.04" cy="338.6" r="1.4"/><circle cx="653.72" cy="314.6" r="1.4"/><circle cx="653.72" cy="319.4" r="1.4"/><circle cx="653.72" cy="329" r="1.4"/><circle cx="653.72" cy="338.6" r="1.4"/><circle cx="672.4" cy="333.8" r="1.4"/><circle cx="672.4" cy="338.6" r="1.4"/></g>
<polygon fill="#D4D4D4" fill-opacity="0.35" points="485.6,331.98 504.28,333.61 522.96,333.94 541.64,333.61 560.32,332.36 579,330.82 597.68,328.52 616.36,326.12 635.04,324.2 653.72,326.12 672.4,332.12 672.4,345.32 653.72,335.82 635.04,332.12 616.36,332.98 597.68,334.9 579,338.36 560.32,341.34 541.64,342.44 522.96,343.26 504.28,344.07 485.6,345.7"/>
<polyline fill="none" stroke="#3366FF" stroke-width="1.2" stroke-linejoin="round" points="485.6,338.74 504.28,338.74 522.96,338.74 541.64,338.46 560.32,337.3 579,334.38 597.68,331.4 616.36,329.24 635.04,328.28 653.72,330.68 672.4,338.6"/>
<path d="M474.4 257V349.8H683.61" fill="none" stroke="#222" stroke-width="0.75"/>
<path d="M472.4 338.6H474.4M472.4 314.6H474.4M472.4 290.6H474.4M472.4 266.6H474.4M485.6 349.8V351.9M504.28 349.8V351.9M522.96 349.8V351.9M541.64 349.8V351.9M560.32 349.8V351.9M579 349.8V351.9M597.68 349.8V351.9M616.36 349.8V351.9M635.04 349.8V351.9M653.72 349.8V351.9M672.4 349.8V351.9" stroke="#333" stroke-width="0.6" fill="none"/>
<text x="470.9" y="340.65" font-size="5.9" text-anchor="end" fill="#0d0d0d">0</text>
<text x="470.9" y="316.65" font-size="5.9" text-anchor="end" fill="#0d0d0d">5</text>
<text x="470.9" y="292.65" font-size="5.9" text-anchor="end" fill="#0d0d0d">10</text>
<text x="470.9" y="268.65" font-size="5.9" text-anchor="end" fill="#0d0d0d">15</text>
<text x="485.6" y="357.65" font-size="5.9" text-anchor="middle" fill="#0d0d0d">Jan</text>
<text x="504.28" y="357.65" font-size="5.9" text-anchor="middle" fill="#0d0d0d">Feb</text>
<text x="522.96" y="357.65" font-size="5.9" text-anchor="middle" fill="#0d0d0d">Mar</text>
<text x="541.64" y="357.65" font-size="5.9" text-anchor="middle" fill="#0d0d0d">May</text>
<text x="560.32" y="357.65" font-size="5.9" text-anchor="middle" fill="#0d0d0d">Jun</text>
<text x="579" y="357.65" font-size="5.9" text-anchor="middle" fill="#0d0d0d">Jul</text>
<text x="597.68" y="357.65" font-size="5.9" text-anchor="middle" fill="#0d0d0d">Aug</text>
<text x="616.36" y="357.65" font-size="5.9" text-anchor="middle" fill="#0d0d0d">Sep</text>
<text x="635.04" y="357.65" font-size="5.9" text-anchor="middle" fill="#0d0d0d">Oct</text>
<text x="653.72" y="357.65" font-size="5.9" text-anchor="middle" fill="#0d0d0d">Nov</text>
<text x="672.4" y="357.65" font-size="5.9" text-anchor="middle" fill="#0d0d0d">Dec</text>
<text x="462.9" y="246.3" font-size="6.8" font-weight="bold">I</text>
<text x="474.6" y="251" font-size="8.67" font-style="italic">Anopheles culicifacies</text>
</g>
<text transform="translate(5.9 185.7) rotate(-90)" font-size="6.5" font-weight="bold" text-anchor="middle">Average number of mosquitoes/site/species</text>
<text x="347.5" y="369.5" font-size="6.5" font-weight="bold" text-anchor="middle">Monthly patterns</text>
</svg></body></html>
